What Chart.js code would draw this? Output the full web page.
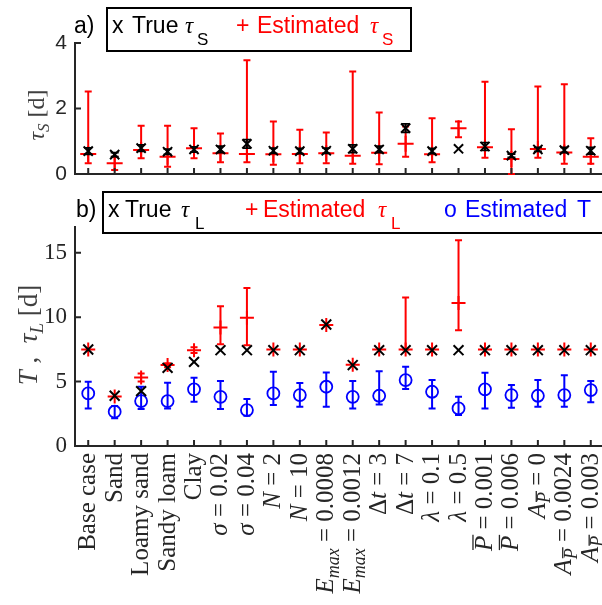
<!DOCTYPE html>
<html><head><meta charset="utf-8">
<script src="https://cdn.jsdelivr.net/npm/chart.js@4.4.0/dist/chart.umd.min.js"></script>
<style>
html,body{margin:0;padding:0;background:#fff;overflow:hidden;width:602px;height:605px}
#wrap{position:relative;width:602px;height:605px;overflow:hidden;background:#fff}
#c1{position:absolute;left:0;top:0}
#c2{position:absolute;left:0;top:180px}
</style></head><body>
<div id="wrap"><canvas id="c1" width="604" height="200"></canvas><canvas id="c2" width="604" height="425"></canvas></div>
<script>
// ---------- data ----------
const categories = ['Base case','Sand','Loamy sand','Sandy loam','Clay','σ = 0.02','σ = 0.04','N = 2','N = 10',
  'E_max = 0.0008','E_max = 0.0012','Δt = 3','Δt = 7','λ = 0.1','λ = 0.5','P\u0304 = 0.001','P\u0304 = 0.006',
  'A_P\u0304 = 0','A_P\u0304 = 0.0024','A_P\u0304 = 0.003'];

const yTicksTop = [0, 2, 4];
const yTicksBottom = [0, 5, 10, 15];

// panel a) tau_S
const tauS_true    = [0.70,0.59,0.79,0.68,0.75,0.75,0.92,0.71,0.70,0.71,0.77,0.75,1.40,0.70,0.77,0.84,0.56,0.75,0.73,0.71];
const tauS_trueErr = [0.10,0.06,0.10,0.08,0.08,0.10,0.13,0.08,0.08,0.08,0.12,0.10,0.13,0.08,0.00,0.12,0.05,0.06,0.08,0.10];
const tauS_est     = [0.61,0.33,0.73,0.53,0.79,0.63,0.61,0.60,0.61,0.63,0.56,0.65,0.92,0.60,1.40,0.82,0.46,0.76,0.66,0.53];
const tauS_low     = [0.33,0.12,0.48,0.22,0.48,0.36,0.36,0.28,0.33,0.33,0.31,0.30,0.53,0.36,1.12,0.50,0.00,0.50,0.31,0.31];
const tauS_high    = [2.52,0.53,1.47,1.47,1.40,1.24,3.47,1.60,1.35,1.27,3.13,1.88,1.45,1.70,1.60,2.82,1.37,2.67,2.74,1.09];

// panel b) tau_L and T
const tauL_true = [7.49,3.90,4.26,6.07,6.53,7.44,7.44,7.44,7.44,9.43,6.28,7.44,7.44,7.44,7.44,7.44,7.44,7.44,7.44,7.44];
const tauL_est  = [7.50,3.85,5.32,6.28,7.44,9.20,9.95,7.50,7.50,9.40,6.30,7.50,7.50,7.50,11.11,7.50,7.50,7.50,7.50,7.50];
const tauL_low  = [7.50,3.85,5.00,6.12,7.22,7.90,7.83,7.50,7.50,9.40,6.30,7.50,7.50,7.50,8.99,7.50,7.50,7.50,7.50,7.50];
const tauL_high = [7.50,3.85,5.62,6.42,7.66,10.85,12.27,7.50,7.50,9.40,6.30,7.50,11.53,7.50,15.97,7.50,7.50,7.50,7.50,7.50];
const T_est  = [4.08,2.66,3.49,3.49,4.40,3.82,2.79,4.08,3.95,4.60,3.82,3.90,5.12,4.21,2.92,4.40,3.95,3.90,3.95,4.34];
const T_low  = [2.92,2.15,2.87,2.92,3.43,2.87,2.35,3.18,3.05,3.05,2.92,3.23,4.42,2.92,2.40,2.92,2.97,3.05,3.05,3.39];
const T_high = [4.98,3.10,4.60,4.91,5.30,5.04,3.64,5.76,4.90,5.71,5.04,5.81,6.15,5.12,3.82,5.68,4.73,5.12,5.50,5.04];

// ---------- helpers ----------
const AX = '#262626';
const RED = '#ff0000', BLUE = '#0000ff';

function errorBars(specs, hook){
  const p = {id:'err_'+hook};
  p[hook] = function(chart){
    const ctx = chart.ctx, x = chart.scales.x, y = chart.scales.y;
    ctx.save();
    for (const s of specs){
      ctx.strokeStyle = s.color; ctx.lineWidth = s.lw;
      for (let i=0;i<s.lo.length;i++){
        if (s.lo[i] === s.hi[i]) continue;
        const px = x.getPixelForValue(i), y1 = y.getPixelForValue(s.lo[i]), y2 = y.getPixelForValue(s.hi[i]);
        ctx.beginPath();
        ctx.moveTo(px,y1); ctx.lineTo(px,y2);
        ctx.moveTo(px-s.cap,y1); ctx.lineTo(px+s.cap,y1);
        ctx.moveTo(px-s.cap,y2); ctx.lineTo(px+s.cap,y2);
        ctx.stroke();
      }
    }
    ctx.restore();
  };
  return p;
}

const inwardTicks = {id:'inward', afterDraw(chart){
  const {ctx, chartArea:a} = chart, x = chart.scales.x, y = chart.scales.y;
  ctx.save(); ctx.strokeStyle = AX; ctx.lineWidth = 2; ctx.beginPath();
  for (let i=0;i<categories.length;i++){ const px = x.getPixelForValue(i); ctx.moveTo(px,a.bottom); ctx.lineTo(px,a.bottom-6); }
  y.ticks.forEach(t=>{ const py = y.getPixelForValue(t.value); ctx.moveTo(a.left,py); ctx.lineTo(a.left+6,py); });
  ctx.stroke(); ctx.restore();
}};

function drawItems(ctx, items){
  for (const it of items){
    ctx.font = it.font; ctx.fillStyle = it.color; ctx.textBaseline = 'alphabetic'; ctx.textAlign = 'left';
    ctx.fillText(it.t, it.x, it.y);
  }
}

// rich (segmented) text drawn in a rotated frame, centred or right-aligned
function drawRich(ctx, segs, align){
  let w = 0;
  for (const s of segs){ ctx.font = s.font; s.w = ctx.measureText(s.t).width; w += s.w; }
  let x = align === 'right' ? -w : -w/2;
  for (const s of segs){
    ctx.font = s.font; ctx.fillStyle = s.color; ctx.textBaseline='alphabetic'; ctx.textAlign='left';
    ctx.fillText(s.t, x, s.dy || 0);
    if (s.bar){
      ctx.save(); ctx.strokeStyle = s.color; ctx.lineWidth = 1.3;
      const by = (s.dy||0) - s.size*0.70 - 1.5;
      ctx.beginPath(); ctx.moveTo(x+1, by); ctx.lineTo(x+s.w+1, by); ctx.stroke(); ctx.restore();
    }
    x += s.w;
  }
}

function labelSegs(label, fs, color){
  const fam = '"Liberation Serif", "DejaVu Serif", serif';
  const eq = label.indexOf(' = ');
  if (eq < 0) return [{t:label, font:fs+'px '+fam, color, size:fs}];
  const lhs = label.slice(0,eq), rhs = label.slice(eq);
  const out = []; let sub = false;
  for (const ch of lhs){
    if (ch === '_'){ sub = true; continue; }
    if (ch === '\u0304'){ out[out.length-1].bar = true; continue; }
    const size = sub ? Math.round(fs*0.7) : fs;
    const it = ch !== 'Δ';
    out.push({t:ch, font:(it?'italic ':'')+size+'px '+fam, color, size, dy: sub ? fs*0.22 : 0});
  }
  out.push({t:rhs, font:fs+'px '+fam, color, size:fs});
  return out;
}

const xLabels = {id:'xlabels', afterDraw(chart){
  const {ctx, chartArea:a} = chart, x = chart.scales.x;
  const fs = 25;
  for (let i=0;i<categories.length;i++){
    const px = x.getPixelForValue(i);
    ctx.save(); ctx.translate(px+7, a.bottom+7); ctx.rotate(-Math.PI/2);
    drawRich(ctx, labelSegs(categories[i], fs, AX), 'right');
    ctx.restore();
  }
}};

const sans = '"Liberation Sans", Arial, sans-serif';
const serif = '"Liberation Serif", "DejaVu Serif", serif';

const decoTop = {id:'decoTop', afterDraw(chart){
  const ctx = chart.ctx;
  ctx.save();
  ctx.lineWidth = 2; ctx.strokeStyle = '#000'; ctx.strokeRect(107, 8, 304, 43);
  const f = '23px '+sans, fs = '17px '+sans, fi = 'italic 23px '+serif;
  drawItems(ctx, [
    {t:'a)', x:74, y:33, font:f, color:'#000'},
    {t:'x', x:112, y:33, font:f, color:'#000'},
    {t:'True', x:132, y:33, font:f, color:'#000'},
    {t:'τ', x:185, y:33, font:fi, color:'#000'},
    {t:'S', x:197, y:45, font:fs, color:'#000'},
    {t:'+', x:236, y:33, font:f, color:RED},
    {t:'Estimated', x:257, y:33, font:f, color:RED},
    {t:'τ', x:370, y:33, font:fi, color:RED},
    {t:'S', x:382, y:45, font:fs, color:RED}
  ]);
  // y title
  ctx.translate(44, 115); ctx.rotate(-Math.PI/2);
  drawRich(ctx, [
    {t:'τ', font:'italic 24px '+serif, color:'#404040', size:24},
    {t:'S', font:'italic 17px '+serif, color:'#404040', size:17, dy:5},
    {t:' [d]', font:'24px '+serif, color:'#404040', size:24}
  ], 'center');
  ctx.restore();
}};

const decoBottom = {id:'decoBottom', afterDraw(chart){
  const ctx = chart.ctx;
  ctx.save();
  ctx.lineWidth = 2; ctx.strokeStyle = '#000'; ctx.strokeRect(103, 12, 520, 41);
  const f = '23px '+sans, fs = '17px '+sans, fi = 'italic 23px '+serif;
  drawItems(ctx, [
    {t:'b)', x:76, y:37, font:f, color:'#000'},
    {t:'x', x:108, y:37, font:f, color:'#000'},
    {t:'True', x:125, y:37, font:f, color:'#000'},
    {t:'τ', x:181, y:37, font:fi, color:'#000'},
    {t:'L', x:195, y:49, font:fs, color:'#000'},
    {t:'+', x:245, y:37, font:f, color:RED},
    {t:'Estimated', x:263, y:37, font:f, color:RED},
    {t:'τ', x:378, y:37, font:fi, color:RED},
    {t:'L', x:391, y:49, font:fs, color:RED},
    {t:'o', x:444, y:37, font:f, color:BLUE},
    {t:'Estimated', x:465, y:37, font:f, color:BLUE},
    {t:'T', x:577, y:37, font:f, color:BLUE}
  ]);
  ctx.translate(37, 155); ctx.rotate(-Math.PI/2);
  drawRich(ctx, [
    {t:'T', font:'italic 27px '+serif, color:'#404040', size:27},
    {t:' ,  ', font:'27px '+serif, color:'#404040', size:27},
    {t:'τ', font:'italic 27px '+serif, color:'#404040', size:27},
    {t:'L', font:'italic 19px '+serif, color:'#404040', size:19, dy:6},
    {t:' [d]', font:'27px '+serif, color:'#404040', size:27}
  ], 'center');
  ctx.restore();
}};

function baseOptions(padTop, ymin, ymax, yticks, xHeight, tickFont){
  return {
    responsive:false, animation:false, events:[],
    layout:{autoPadding:false, padding:{top:padTop, left:0, right:0, bottom:0}},
    plugins:{legend:{display:false}, tooltip:{enabled:false}},
    scales:{
      x:{offset:true, grid:{display:false, drawTicks:false}, border:{display:true, color:AX, width:2},
         ticks:{display:false}, afterFit(s){ s.height = xHeight; }},
      y:{min:ymin, max:ymax, afterBuildTicks(s){ s.ticks = yticks.map(v=>({value:v})); },
         grid:{display:false, drawTicks:false}, border:{display:true, color:AX, width:2},
         ticks:{padding:8, color:AX, font:tickFont}, afterFit(s){ s.width = 75; }}
    }
  };
}

// ---------- top chart ----------
new Chart(document.getElementById('c1'), {
  type:'line',
  data:{labels:categories, datasets:[
    {data:tauS_true, showLine:false, pointStyle:'crossRot', pointRadius:6.5, pointBorderColor:'#000', pointBorderWidth:2, clip:false},
    {data:tauS_est, showLine:false, pointStyle:'cross', pointRadius:8, pointBorderColor:RED, pointBorderWidth:2, clip:false}
  ]},
  options: baseOptions(43, 0, 4, yTicksTop, 26, {family:'Liberation Sans', size:21}),
  plugins:[
    errorBars([{lo:tauS_low, hi:tauS_high, color:RED, lw:2, cap:3.5}], 'beforeDatasetsDraw'),
    errorBars([{lo:tauS_true.map((v,i)=>v-tauS_trueErr[i]), hi:tauS_true.map((v,i)=>v+tauS_trueErr[i]), color:'#000', lw:1.8, cap:4}], 'afterDatasetsDraw'),
    inwardTicks, decoTop
  ]
});

// ---------- bottom chart ----------
new Chart(document.getElementById('c2'), {
  type:'line',
  data:{labels:categories, datasets:[
    {data:tauL_true, showLine:false, pointStyle:'crossRot', pointRadius:7, pointBorderColor:'#000', pointBorderWidth:2, clip:false},
    {data:tauL_est, showLine:false, pointStyle:'cross', pointRadius:7, pointBorderColor:RED, pointBorderWidth:2, clip:false},
    {data:T_est, showLine:false, pointStyle:'circle', pointRadius:6, pointBackgroundColor:'rgba(0,0,0,0)', pointBorderColor:BLUE, pointBorderWidth:1.8, clip:false}
  ]},
  options: baseOptions(47, 0, 17, yTicksBottom, 159, {family:'Liberation Serif', size:23}),
  plugins:[
    errorBars([{lo:tauL_low, hi:tauL_high, color:RED, lw:2, cap:3.5}, {lo:T_low, hi:T_high, color:BLUE, lw:2, cap:3.5}], 'beforeDatasetsDraw'),
    inwardTicks, xLabels, decoBottom
  ]
});
</script>
</body></html>
